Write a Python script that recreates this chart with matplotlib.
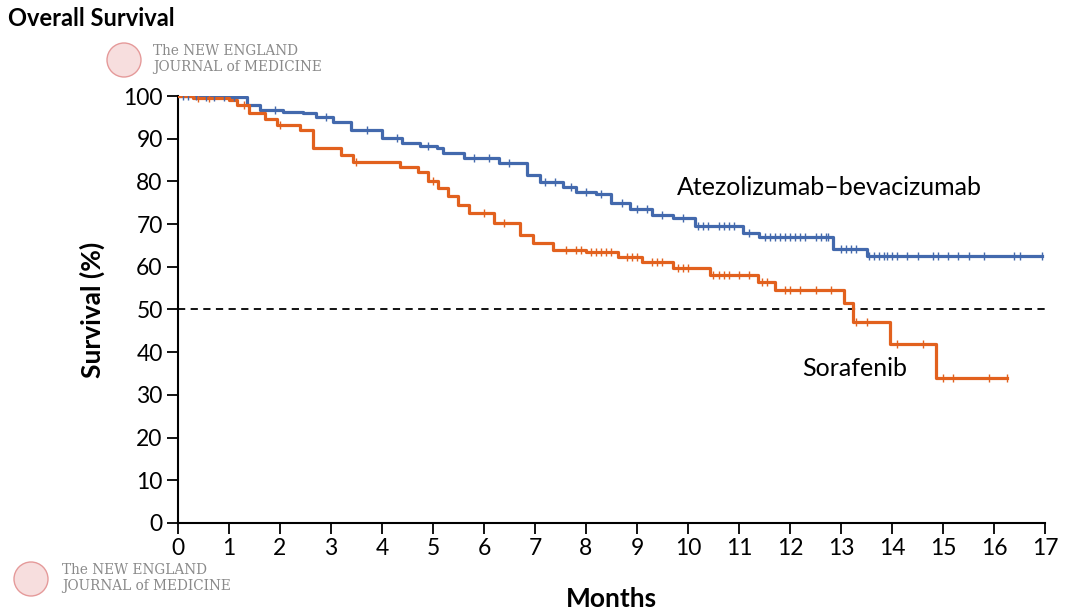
import matplotlib.pyplot as plt
import numpy as np
from matplotlib.patches import Ellipse

# step times (months) and survival (%) after each step
atezo_t = [0, 0.5, 1.35, 1.6, 2.06, 2.45, 2.7, 3.04, 3.4, 4.0, 4.4, 4.75, 5.07, 5.2, 5.6,
           6.3, 6.84, 7.1, 7.55, 7.8, 8.2, 8.5, 8.86, 9.3, 9.7, 10.14, 10.5, 11.08, 11.4,
           12.84, 13.5]
atezo_s = [100, 99.7, 97.9, 96.7, 96.3, 96.0, 95.1, 93.9, 92.0, 90.2, 89.0, 88.4, 87.8, 86.6, 85.5,
           84.3, 81.5, 79.9, 78.7, 77.5, 77.0, 75.0, 73.5, 72.1, 71.4, 69.6, 69.5, 67.9, 67.0,
           64.2, 62.6]
atezo_end = 16.95
atezo_cens = [0.1, 0.2, 0.35, 0.55, 0.7, 0.9, 1.1, 1.9, 2.9, 3.7, 4.3, 4.9, 5.8, 6.1, 6.5, 7.2,
              7.4, 7.7, 8.0, 8.3, 8.7, 9.0, 9.2, 9.5, 9.9, 10.2, 10.3, 10.4, 10.6, 10.7, 10.8,
              10.9, 11.2, 11.5, 11.6, 11.7, 11.8, 11.9, 12.0, 12.1, 12.2, 12.3, 12.5, 12.6,
              12.7, 12.75, 13.0, 13.1, 13.2, 13.3, 13.55, 13.65, 13.75, 13.85, 13.9, 14.0,
              14.1, 14.3, 14.5, 14.8, 14.9, 15.1, 15.3, 15.5, 15.8, 16.4, 16.5, 16.95]

sora_t = [0, 0.3, 1.0, 1.15, 1.4, 1.7, 1.95, 2.4, 2.65, 3.2, 3.43, 4.35, 4.7, 4.9, 5.1, 5.3,
          5.5, 5.7, 6.2, 6.7, 6.96, 7.36, 8.0, 8.63, 9.1, 9.7, 10.43, 11.37, 11.7, 13.06,
          13.23, 13.96, 14.86]
sora_s = [100, 99.5, 99.0, 97.9, 96.0, 94.5, 93.2, 92.0, 87.8, 86.2, 84.6, 83.4, 82.2, 80.0,
          78.5, 76.5, 74.5, 72.6, 70.3, 67.4, 65.6, 63.9, 63.4, 62.3, 61.1, 59.7, 58.1, 56.4,
          54.6, 51.5, 47.1, 41.9, 34.0]
sora_end = 16.25
sora_cens = [0.4, 0.6, 1.3, 2.0, 3.5, 5.0, 6.0, 6.4, 7.6, 7.8, 7.9, 8.1, 8.2, 8.3, 8.4, 8.5,
             8.8, 8.9, 9.0, 9.3, 9.4, 9.5, 9.8, 9.9, 10.0, 10.5, 10.6, 10.7, 10.8, 11.0, 11.2,
             11.45, 11.55, 11.9, 12.0, 12.2, 12.5, 12.8, 13.3, 13.5, 14.1, 14.6, 15.0, 15.2,
             15.9, 16.25]

blue = "#4369ad"
orange = "#e2611e"

plt.rcParams["font.family"] = ["Lato", "DejaVu Sans"]

fig = plt.figure(figsize=(10.8, 6.15), dpi=100)
ax = fig.add_axes([0.1648, 0.1496, 0.8028, 0.6943])


def km(ax, t, s, end, cens, color):
    tt = list(t) + [end]
    ss = list(s) + [s[-1]]
    ax.step(tt, ss, where="post", color=color, lw=2.3, zorder=3)
    ct = np.array(cens)
    idx = np.searchsorted(np.array(t), ct, side="right") - 1
    ax.plot(ct, np.array(s)[idx], ls="none", marker="|", ms=5.5, mew=1.0,
            color=color, zorder=4)


km(ax, atezo_t, atezo_s, atezo_end, atezo_cens, blue)
km(ax, sora_t, sora_s, sora_end, sora_cens, orange)
ax.plot([0, 17], [50, 50], color="black", ls=(0, (4, 3)), lw=1.3, zorder=2)

ax.set_xlim(0, 17)
ax.set_ylim(0, 100)
ax.set_xticks(range(0, 18))
ax.set_yticks(range(0, 101, 10))
ax.spines["top"].set_visible(False)
ax.spines["right"].set_visible(False)
ax.spines["left"].set_linewidth(1.5)
ax.spines["bottom"].set_linewidth(1.5)
ax.tick_params(direction="out", length=8, width=1.3, labelsize=16.5, pad=3)
ax.set_xlabel("Months", fontsize=19, fontweight="bold", labelpad=20)
ax.set_ylabel("Survival (%)", fontsize=19, fontweight="bold", labelpad=13)

ax.text(12.78, 78.5, "Atezolizumab\u2013bevacizumab", fontsize=18, ha="center", va="center")
ax.text(13.27, 36.1, "Sorafenib", fontsize=18, ha="center", va="center")

fig.text(0.007, 0.97, "Overall Survival", fontsize=17, fontweight="bold", ha="left", va="center")


def logo(cx, cy, tx):
    fig.patches.append(Ellipse((cx / 1080, 1 - cy / 615), 34 / 1080, 34 / 615,
                               transform=fig.transFigure,
                               facecolor="#f7dede", edgecolor="#e59a9a", lw=1))
    fig.text(tx / 1080, 1 - (cy - 9) / 615, "The NEW ENGLAND", family="DejaVu Serif",
             fontsize=9.8, color="#8a8a8a", va="center")
    fig.text(tx / 1080, 1 - (cy + 7) / 615, "JOURNAL of MEDICINE", family="DejaVu Serif",
             fontsize=9.8, color="#8a8a8a", va="center")


logo(124, 60, 153)
logo(31, 579, 62)

fig.savefig("out.png", dpi=100)
